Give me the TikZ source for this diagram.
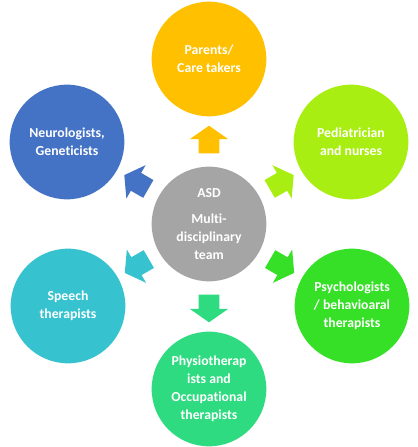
\documentclass[tikz,border=0pt]{standalone}
\usepackage{fontspec}
\setmainfont{Carlito}[BoldFont={Carlito Bold}, Ligatures=NoCommon]
\usetikzlibrary{shapes.arrows, calc}

\definecolor{asdGray}{HTML}{A5A5A5}
\definecolor{careGold}{HTML}{FFC000}
\definecolor{neuroBlue}{HTML}{4472C4}
\definecolor{pedLime}{HTML}{A9EE12}
\definecolor{psyGreen}{HTML}{36E027}
\definecolor{physioGreen}{HTML}{2EDB80}
\definecolor{speechTeal}{HTML}{36C2CE}

\begin{document}
\begin{tikzpicture}[x=0.75pt, y=0.75pt,
  team/.style={circle, minimum size=86pt, inner sep=0pt, align=center, text=white,
    font=\bfseries\fontsize{10.3}{13.5}\selectfont},
  link/.style={single arrow, single arrow head extend=6.75pt, single arrow tip angle=110,
    minimum width=28.5pt, minimum height=19pt, inner sep=7.5pt}]
  \useasboundingbox (0,0) rectangle (418,447);

  % the team in the middle
  \node[team, fill=asdGray] (asd) at (209,223) {ASD\\[6pt]Multi-\\disciplinary\\team};

  % the six groups round it
  \node[team, fill=careGold] (parents) at (209,388) {Parents/\\Care takers};
  \node[team, fill=neuroBlue] (neuro) at (67,305) {Neurologists,\\Geneticists};
  \node[team, fill=pedLime] (ped) at (351,305) {Pediatrician\\and nurses};
  \node[team, fill=psyGreen] (psych) at (352,141) {Psychologists\\/ behavioaral\\therapists};
  \node[team, fill=physioGreen] (physio) at (209,58) {Physiotherap\\ists and\\Occupational\\therapists};
  \node[team, fill=speechTeal] (speech) at (68,141) {Speech\\therapists};

  % block arrows
  \node[link, fill=careGold, rotate=90] (toParents) at ($(asd)!0.49!(parents)$) {};
  \node[link, fill=neuroBlue, rotate=150] (toNeuro) at ($(asd)!0.49!(neuro)$) {};
  \node[link, fill=pedLime, rotate=30] (toPed) at ($(asd)!0.49!(ped)$) {};
  \node[link, fill=psyGreen, rotate=-30] (toPsych) at ($(asd)!0.49!(psych)$) {};
  \node[link, fill=physioGreen, rotate=270] (toPhysio) at ($(asd)!0.49!(physio)$) {};
  \node[link, fill=speechTeal, rotate=210] (toSpeech) at ($(asd)!0.49!(speech)$) {};
\end{tikzpicture}
\end{document}
